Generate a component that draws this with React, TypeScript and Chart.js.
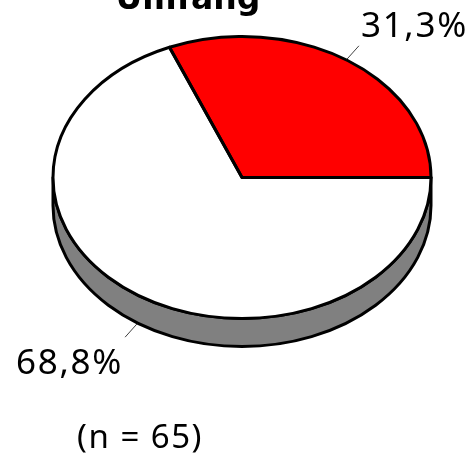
import { useEffect, useRef } from "react";
import { Chart, registerables } from "chart.js";

Chart.register(...registerables);

const categories = ["Ja", "Nein"];
const shares = [31.3, 68.8];
const shareLabels = ["31,3%", "68,8%"];
const sliceColors = ["#ff0000", "#ffffff"];
const titleText = "Umfang";
const sampleNote = "(n = 65)";

const TITLE_FONT = '"DejaVu Sans", sans-serif';
const TEXT_FONT = '"Noto Sans", sans-serif';
const WIDTH = 471;
const HEIGHT = 456;
const CENTER_Y = 177.5;
const TILT = 141 / 189;
const DEPTH = 28;
const OUTLINE = 3;
const LEADER = 18;

const total = shares.reduce((a, b) => a + b, 0);

// Maps the round pie drawn by Chart.js onto a tilted disc.
function applyTilt(ctx: CanvasRenderingContext2D, cy: number) {
  ctx.translate(0, CENTER_Y);
  ctx.scale(1, TILT);
  ctx.translate(0, -cy);
}

const tiltedPie = {
  id: "tiltedPie",
  beforeDatasetsDraw(chart: any) {
    const ctx: CanvasRenderingContext2D = chart.ctx;
    const arc = chart.getDatasetMeta(0).data[0];
    const { x, y, outerRadius: r } = arc.getProps(["x", "y", "outerRadius"], true);

    // Side wall: lower half of the rim pushed down by the disc depth.
    ctx.save();
    ctx.beginPath();
    ctx.ellipse(x, CENTER_Y, r, r * TILT, 0, 0, Math.PI);
    ctx.ellipse(x, CENTER_Y + DEPTH, r, r * TILT, 0, Math.PI, 0, true);
    ctx.closePath();
    ctx.fillStyle = "#808080";
    ctx.fill();
    ctx.strokeStyle = "#000000";
    ctx.lineWidth = OUTLINE;
    ctx.lineJoin = "round";
    ctx.stroke();
    ctx.restore();

    ctx.save();
    applyTilt(ctx, y);
  },
  afterDatasetsDraw(chart: any) {
    const ctx: CanvasRenderingContext2D = chart.ctx;
    ctx.restore();

    const arcs = chart.getDatasetMeta(0).data;
    arcs.forEach((arc: any, i: number) => {
      const { x, y, outerRadius: r, startAngle, endAngle } = arc.getProps(
        ["x", "y", "outerRadius", "startAngle", "endAngle"],
        true
      );
      // Outlines are stroked after the tilt so their width stays even.
      ctx.save();
      ctx.beginPath();
      ctx.save();
      applyTilt(ctx, y);
      ctx.moveTo(x, y);
      ctx.arc(x, y, r, startAngle, endAngle);
      ctx.closePath();
      ctx.restore();
      ctx.strokeStyle = "#000000";
      ctx.lineWidth = OUTLINE;
      ctx.lineJoin = "round";
      ctx.stroke();
      ctx.restore();

      // Leader line and percentage label at the middle of the slice.
      const mid = (startAngle + endAngle) / 2;
      const dx = r * Math.cos(mid);
      const dy = r * TILT * Math.sin(mid);
      const len = Math.hypot(dx, dy);
      const front = dy > 0;
      const x0 = x + dx;
      const y0 = CENTER_Y + dy + (front ? DEPTH : 0) + (front ? 1 : -1);
      const x1 = x0 + (dx / len) * LEADER;
      const y1 = y0 + (dy / len) * LEADER;
      ctx.save();
      ctx.beginPath();
      ctx.moveTo(x0, y0);
      ctx.lineTo(x1, y1);
      ctx.strokeStyle = "#404040";
      ctx.lineWidth = 1;
      ctx.stroke();
      ctx.fillStyle = "#000000";
      ctx.font = `35px ${TEXT_FONT}`;
      (ctx as any).letterSpacing = "1.7px";
      ctx.textBaseline = "alphabetic";
      ctx.textAlign = "left";
      ctx.fillText(shareLabels[i], front ? x1 - 109 : x1 + 2, front ? y1 + 37 : y1 - 9);
      ctx.restore();
    });

    ctx.save();
    ctx.fillStyle = "#000000";
    ctx.textAlign = "center";
    ctx.textBaseline = "alphabetic";
    ctx.font = `bold 33px ${TITLE_FONT}`;
    ctx.fillText(titleText, 188, 9);
    ctx.font = `33px ${TEXT_FONT}`;
    (ctx as any).letterSpacing = "1.5px";
    ctx.fillText(sampleNote, 140, 448);
    ctx.restore();
  },
};

export default function App() {
  const canvasRef = useRef<HTMLCanvasElement>(null);

  useEffect(() => {
    const canvas = canvasRef.current;
    if (!canvas) return;
    const chart = new Chart(canvas, {
      type: "pie",
      data: {
        labels: categories,
        datasets: [
          {
            data: shares,
            backgroundColor: sliceColors,
            borderWidth: 0,
          },
        ],
      },
      options: {
        responsive: false,
        animation: false,
        // The red slice ends on the horizontal radius to the right.
        rotation: 90 - (360 * shares[0]) / total,
        layout: { padding: { left: 53, right: 40, top: 0, bottom: 0 } },
        plugins: {
          legend: { display: false },
          title: { display: false },
          tooltip: { enabled: false },
        },
      },
      plugins: [tiltedPie],
    });
    return () => chart.destroy();
  }, []);

  return (
    <canvas
      ref={canvasRef}
      width={WIDTH}
      height={HEIGHT}
      style={{ position: "fixed", left: 0, top: 0, display: "block" }}
    />
  );
}
